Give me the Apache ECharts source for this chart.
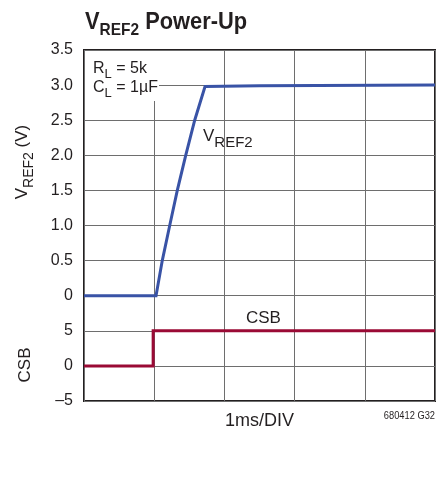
<!DOCTYPE html>
<html>
<head>
<meta charset="utf-8">
<script src="https://cdn.jsdelivr.net/npm/echarts@6/dist/echarts.min.js"></script>
<style>
  html, body { margin: 0; padding: 0; background: #fff; }
  #chart { width: 444px; height: 487px; }
</style>
</head>
<body>
<div id="chart"></div>
<script>
// Time base: 1 ms per division
const vrefTimeMs = [0, 1.026, 1.115, 1.221, 1.329, 1.449, 1.577, 1.724, 2.5, 5.0];
const vrefVolts  = [0, 0, 0.5, 1.0, 1.5, 2.0, 2.5, 2.98, 2.99, 3.0];

const csbTimeMs = [0, 0.985, 0.985, 5.0];
const csbVolts  = [0, 0, 5, 5];

// Tick labels for the two stacked traces
const vrefTickLabels = ['0', '0.5', '1.0', '1.5', '2.0', '2.5', '3.0', '3.5'];
const csbTickLabels  = ['\u20135', '0', '5'];

const FONT = '"Liberation Sans", Arial, sans-serif';
const INK = '#231f20';
const GRID = '#6e6e6e';

const chart = echarts.init(document.getElementById('chart'), null, { renderer: 'canvas' });

const pair = (xs, ys) => xs.map((x, i) => [x, ys[i]]);

chart.setOption({
  animation: false,
  backgroundColor: '#fff',
  grid: {
    left: 84, top: 50, width: 351, height: 351,
    show: true, borderColor: INK, borderWidth: 2, backgroundColor: 'transparent'
  },
  xAxis: {
    type: 'value', min: 0, max: 5, interval: 1,
    axisLine: { show: false },
    axisTick: { show: false },
    axisLabel: { show: false },
    splitLine: { show: true, lineStyle: { color: GRID, width: 1 } },
    name: '1ms/DIV',
    nameLocation: 'middle',
    nameGap: 11,
    nameTextStyle: { fontFamily: FONT, fontSize: 18, color: INK, verticalAlign: 'top' }
  },
  yAxis: [
    {
      type: 'value', min: -1.5, max: 3.5, interval: 0.5,
      position: 'left',
      axisLine: { show: false },
      axisTick: { show: false },
      splitLine: { show: true, lineStyle: { color: GRID, width: 1 } },
      axisLabel: {
        margin: 11, fontFamily: FONT, fontSize: 16, color: INK,
        formatter: v => {
          const i = Math.round(v / 0.5);
          return i >= 0 ? vrefTickLabels[i] : '';
        }
      }
    },
    {
      type: 'value', min: -5, max: 45, interval: 5,
      position: 'left',
      axisLine: { show: false },
      axisTick: { show: false },
      splitLine: { show: false },
      axisLabel: {
        margin: 11, fontFamily: FONT, fontSize: 16, color: INK,
        formatter: v => {
          const i = Math.round(v / 5) + 1;
          return i >= 0 && i < csbTickLabels.length ? csbTickLabels[i] : '';
        }
      }
    }
  ],
  series: [
    {
      name: 'VREF2', type: 'line', yAxisIndex: 0,
      data: pair(vrefTimeMs, vrefVolts),
      showSymbol: false, symbol: 'none',
      lineStyle: { color: '#3953a6', width: 3, join: 'miter' },
      z: 3
    },
    {
      name: 'CSB', type: 'line', yAxisIndex: 1,
      data: pair(csbTimeMs, csbVolts),
      showSymbol: false, symbol: 'none',
      lineStyle: { color: '#9a0a35', width: 3, join: 'miter' },
      z: 3
    }
  ],
  graphic: [
    // chart title, condensed bold
    {
      type: 'text', z: 6, x: 85, y: 10, scaleX: 0.91,
      style: {
        text: '{v|V}{sub|REF2}{v| Power-Up}',
        rich: {
          v:   { fontFamily: FONT, fontWeight: 'bold', fontSize: 24, fill: INK, verticalAlign: 'bottom', padding: [0, 0, 5, 0] },
          sub: { fontFamily: FONT, fontWeight: 'bold', fontSize: 17, fill: INK, verticalAlign: 'bottom' }
        }
      }
    },
    // load conditions box in the upper-left corner of the plot
    {
      type: 'rect', z: 5,
      shape: { x: 85, y: 51, width: 74, height: 50 },
      style: { fill: '#fff' }
    },
    {
      type: 'text', z: 6, left: 93, top: 61,
      style: {
        text: '{m|R}{s|L}{m| = 5k}\n{m|C}{s|L}{m| = 1\u00b5F}',
        rich: {
          m: { fontFamily: FONT, fontSize: 16, fill: INK, verticalAlign: 'bottom', padding: [0, 0, 4, 0], lineHeight: 19 },
          s: { fontFamily: FONT, fontSize: 13, fill: INK, verticalAlign: 'bottom', lineHeight: 19 }
        }
      }
    },
    {
      type: 'text', z: 6, left: 203, top: 128,
      style: {
        text: '{m|V}{s|REF2}',
        rich: {
          m: { fontFamily: FONT, fontSize: 17, fill: INK, verticalAlign: 'bottom', padding: [0, 0, 5, 0] },
          s: { fontFamily: FONT, fontSize: 15, fill: INK, verticalAlign: 'bottom' }
        }
      }
    },
    {
      type: 'text', z: 6, left: 246, top: 310,
      style: { text: 'CSB', fontFamily: FONT, fontSize: 17, fill: INK }
    },
    // vertical axis titles
    {
      type: 'text', z: 6, x: 25, y: 162, rotation: Math.PI / 2,
      style: {
        text: '{m|V}{s|REF2}{m| (V)}',
        align: 'center', verticalAlign: 'middle',
        rich: {
          m: { fontFamily: FONT, fontSize: 17, fill: INK, verticalAlign: 'bottom', padding: [0, 0, 5, 0] },
          s: { fontFamily: FONT, fontSize: 14, fill: INK, verticalAlign: 'bottom' }
        }
      }
    },
    {
      type: 'text', z: 6, x: 25, y: 365, rotation: Math.PI / 2,
      style: { text: 'CSB', fontFamily: FONT, fontSize: 17, fill: INK, align: 'center', verticalAlign: 'middle' }
    },
    {
      type: 'text', z: 6, x: 435, y: 411, scaleX: 0.93,
      style: { text: '680412 G32', fontFamily: FONT, fontSize: 10, fill: INK, align: 'right' }
    }
  ]
});
</script>
</body>
</html>
